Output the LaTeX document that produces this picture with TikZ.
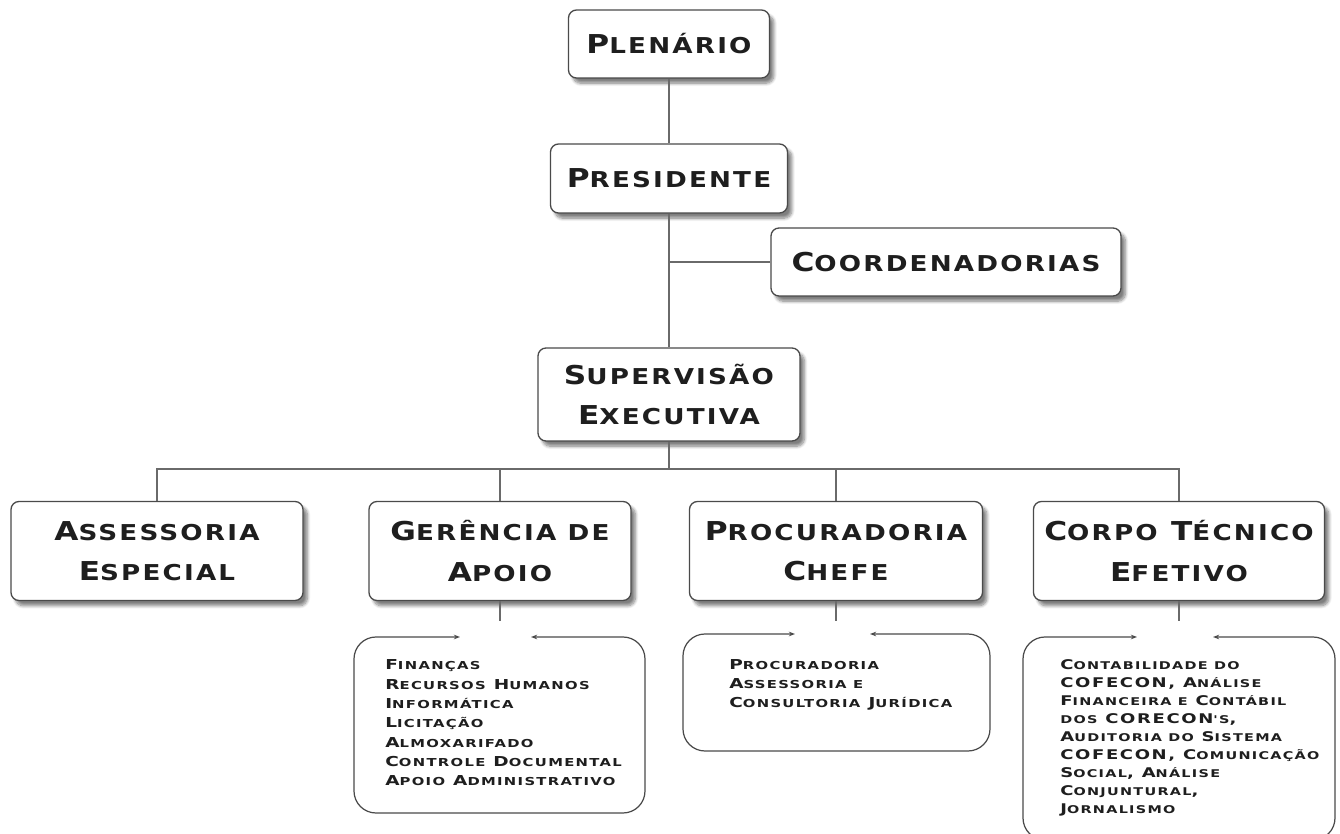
\documentclass[tikz,border=0pt]{standalone}
\usepackage{fontspec}
\usetikzlibrary{shadows.blur,arrows.meta}
\newfontfamily\headfont{DejaVu Sans Bold}[FakeStretch=1.2,LetterSpace=10]
\newfontfamily\listfont{DejaVu Sans Bold}[FakeStretch=1.35,LetterSpace=12]
\makeatletter
\newcommand{\smratio}{0.8}
\newcommand{\sm}[1]{{\fontsize{\fpeval{\smratio*\f@size}}{\f@baselineskip}\selectfont #1}}
\makeatother
\definecolor{rim}{HTML}{4A4A4A}
\definecolor{linkgray}{HTML}{6A6A6A}
\definecolor{ink}{HTML}{1E1E1E}
\tikzset{
  orgbox/.style={draw=rim, line width=0.75pt, fill=white, rounded corners=0.16cm,
    align=center, text=ink, inner sep=0pt,
    font=\headfont\fontsize{14.8}{23}\selectfont\renewcommand{\smratio}{0.84},
    blur shadow={shadow xshift=2.5pt, shadow yshift=-3pt, shadow blur steps=8, shadow opacity=50}},
  link/.style={draw=linkgray, line width=0.6pt},
  listrim/.style={draw=rim, line width=0.7pt, rounded corners=0.44cm,
    {Stealth[length=3.5pt,width=2.6pt]}-{Stealth[length=3.5pt,width=2.6pt]}},
  listtext/.style={align=left, anchor=west, text=ink, inner sep=0pt}
}
\begin{document}
\begin{tikzpicture}[x=0.02cm,y=-0.02cm]
\useasboundingbox (0,0) rectangle (1340,834);

% upper levels
\node[orgbox, minimum width=201*0.02cm, minimum height=68*0.02cm] (plen) at (669,44) {P\sm{LENÁRIO}};
\node[orgbox, minimum width=237*0.02cm, minimum height=69*0.02cm] (pres) at (669,178.5) {P\sm{RESIDENTE}};
\node[orgbox, minimum width=350*0.02cm, minimum height=68*0.02cm] (coord) at (946,262) {C\sm{OORDENADORIAS}};
\node[orgbox, minimum width=262*0.02cm, minimum height=93*0.02cm] (sup) at (669,394.5) {S\sm{UPERVISÃO}\\E\sm{XECUTIVA}};

% second level
\node[orgbox, minimum width=292*0.02cm, minimum height=99*0.02cm] (ass) at (157,551) {A\sm{SSESSORIA}\\E\sm{SPECIAL}};
\node[orgbox, minimum width=262*0.02cm, minimum height=99*0.02cm] (ger) at (500,551) {G\sm{ERÊNCIA DE}\\A\sm{POIO}};
\node[orgbox, minimum width=293*0.02cm, minimum height=99*0.02cm] (proc) at (836,551) {P\sm{ROCURADORIA}\\C\sm{HEFE}};
\node[orgbox, minimum width=291*0.02cm, minimum height=99*0.02cm] (cte) at (1179,551) {C\sm{ORPO} T\sm{ÉCNICO}\\E\sm{FETIVO}};

% connectors
\coordinate (bus) at (669,469);
\draw[link] (plen) -- (pres);
\draw[link] (pres) -- (sup);
\draw[link] (coord.west) -- (coord.west -| sup.north);
\draw[link] (sup.south) -- (bus);
\draw[link] (ass.north) |- (bus) -| (cte.north);
\draw[link] (ger.north) -- (ger.north |- bus);
\draw[link] (proc.north) -- (proc.north |- bus);

% lists
\coordinate (gerGap) at (500,621);
\coordinate (procGap) at (836,621);
\coordinate (cteGap) at (1179,621);
\draw[link] (ger.south) -- (gerGap);
\draw[link] (proc.south) -- (procGap);
\draw[link] (cte.south) -- (cteGap);

\draw[listrim] (460,637) -- (354,637) -- (354,813) -- (645,813) -- (645,637) -- (531,637);
\draw[listrim] (795,634) -- (683,634) -- (683,751) -- (990,751) -- (990,634) -- (870,634);
\draw[listrim] (1137,637) -- (1023,637) -- (1023,840) -- (1335,840) -- (1335,637) -- (1213,637);

\node[listtext, font=\listfont\fontsize{7.8}{11}\selectfont] (gerList) at (385,723)
  {F\sm{INANÇAS}\\R\sm{ECURSOS} H\sm{UMANOS}\\I\sm{NFORMÁTICA}\\L\sm{ICITAÇÃO}\\A\sm{LMOXARIFADO}\\C\sm{ONTROLE} D\sm{OCUMENTAL}\\A\sm{POIO} A\sm{DMINISTRATIVO}};
\node[listtext, font=\listfont\fontsize{7.8}{10.8}\selectfont] (procList) at (729,685)
  {P\sm{ROCURADORIA}\\A\sm{SSESSORIA E}\\C\sm{ONSULTORIA} J\sm{URÍDICA}};
\node[listtext, font=\listfont\fontsize{7.6}{10.2}\selectfont] (cteList) at (1060,738)
  {C\sm{ONTABILIDADE DO}\\COFECON, A\sm{NÁLISE}\\F\sm{INANCEIRA E} C\sm{ONTÁBIL}\\\sm{DOS} CORECON\sm{'S},\\A\sm{UDITORIA DO} S\sm{ISTEMA}\\COFECON, C\sm{OMUNICAÇÃO}\\S\sm{OCIAL}, A\sm{NÁLISE}\\C\sm{ONJUNTURAL},\\J\sm{ORNALISMO}};
\end{tikzpicture}
\end{document}
